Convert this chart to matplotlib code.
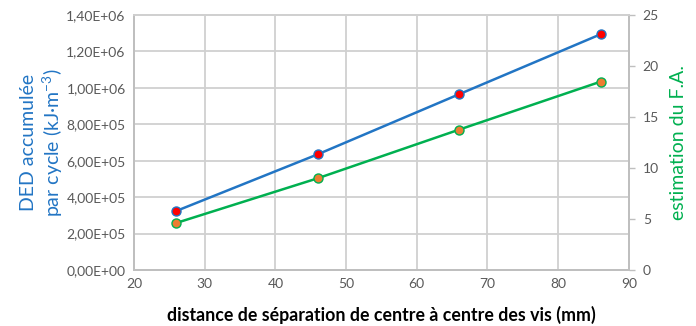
import matplotlib
matplotlib.use("Agg")
import matplotlib.pyplot as plt
from matplotlib.ticker import FuncFormatter, MultipleLocator

plt.rcParams['font.family'] = ['Lato', 'DejaVu Sans']

distance_mm = [26, 46, 66, 86]
ded_cycle = [3.24e5, 6.35e5, 9.65e5, 1.294e6]
fa_estimate = [4.61, 8.99, 13.76, 18.46]

x_ticks = [20, 30, 40, 50, 60, 70, 80, 90]

grey = '#595959'
grid_c = '#D0D0D0'
blue = '#2275C4'
green = '#00B050'

fig = plt.figure(figsize=(6.96, 3.26), dpi=100)
ax = fig.add_axes([0.1925, 0.172, 0.711, 0.782])
ax2 = ax.twinx()

ax.set_xlim(20, 90)
ax.set_ylim(0, 1.4e6)
ax2.set_ylim(0, 25)
ax.set_xticks(x_ticks)
ax.yaxis.set_major_locator(MultipleLocator(2e5))
ax2.yaxis.set_major_locator(MultipleLocator(5))

def sci_fr(v, pos):
    s = f"{v:.2E}"
    return s.replace('.', ',')

ax.yaxis.set_major_formatter(FuncFormatter(sci_fr))

ax.grid(True, color=grid_c, linewidth=1.3)
ax.set_axisbelow(True)

for a in (ax, ax2):
    for side, sp in a.spines.items():
        sp.set_color('#BFBFBF')
        sp.set_linewidth(1.3)
    a.spines['top'].set_color(grid_c)

ax.tick_params(axis='both', length=0, colors=grey, labelsize=10, pad=6)
ax2.tick_params(axis='y', length=4, width=1.0, color='#BFBFBF', colors=grey,
                labelsize=10, pad=6)
ax2.tick_params(axis='y', color='#BFBFBF')

ax.plot(distance_mm, ded_cycle, color=blue, linewidth=1.8, marker='o',
        markersize=6.5, markerfacecolor='#FF0000', markeredgecolor=blue,
        markeredgewidth=1.0, zorder=3)
ax2.plot(distance_mm, fa_estimate, color=green, linewidth=1.8, marker='o',
         markersize=6.5, markerfacecolor='#ED7D31', markeredgecolor=green,
         markeredgewidth=1.0, zorder=3)

ax.set_ylabel("DED accumulée\npar cycle (kJ·m$^{\\mathregular{-3}}$)", color=blue,
              fontsize=14, labelpad=1, linespacing=1.15)
ax2.set_ylabel("estimation du F.A.", color=green, fontsize=14, labelpad=8)
ax.set_xlabel("distance de séparation de centre à centre des vis (mm)",
              fontsize=12.8, fontweight='bold', color='black', labelpad=11)

fig.savefig("out.png", dpi=100)
